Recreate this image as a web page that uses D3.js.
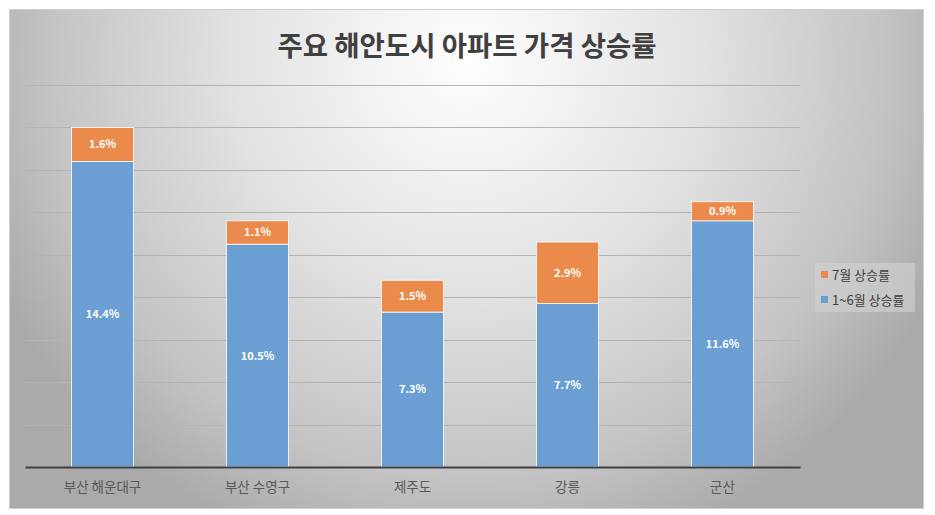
<!DOCTYPE html>
<html><head><meta charset="utf-8">
<script src="https://cdn.jsdelivr.net/npm/d3@7"></script>
<style>body{margin:0;background:#fff;} svg{display:block;}</style>
</head><body>
<svg id="c" width="935" height="515"></svg>
<script>
const categories = ["부산 해운대구", "부산 수영구", "제주도", "강릉", "군산"];
const h1Values = [14.4, 10.5, 7.3, 7.7, 11.6];   // 1~6월 상승률
const julValues = [1.6, 1.1, 1.5, 2.9, 0.9];     // 7월 상승률
const seriesNames = ["1~6월 상승률", "7월 상승률"];
const yTicks = [0, 2, 4, 6, 8, 10, 12, 14, 16, 18];
const title = "주요 해안도시 아파트 가격 상승률";

const colors = {"1~6월 상승률": "#6b9fd4", "7월 상승률": "#eb8b4b"};
const font = "'Noto Sans CJK KR', 'Noto Sans', sans-serif";

const svg = d3.select("#c");
const defs = svg.append("defs");
const grad = defs.append("radialGradient").attr("id", "bg")
  .attr("gradientUnits", "userSpaceOnUse")
  .attr("cx", 467).attr("cy", 60).attr("r", 520);
grad.append("stop").attr("offset", 0).attr("stop-color", "#ffffff");
grad.append("stop").attr("offset", 0.45).attr("stop-color", "#e2e2e2");
grad.append("stop").attr("offset", 0.8).attr("stop-color", "#c4c4c4");
grad.append("stop").attr("offset", 1).attr("stop-color", "#aaaaaa");

svg.append("rect").attr("x", 9.5).attr("y", 9.5).attr("width", 914).attr("height", 499)
  .attr("fill", "url(#bg)").attr("stroke", "#d0d0d0").attr("stroke-width", 1);

const x = d3.scaleBand().domain(categories).range([25, 800]).paddingInner(0.6).paddingOuter(0.3);
const y = d3.scaleLinear().domain([0, 18]).range([467, 85]);

// gridlines
svg.append("g").selectAll("line").data(yTicks.slice(1)).join("line")
  .attr("x1", 25).attr("x2", 800)
  .attr("y1", d => Math.round(y(d)) + 0.5).attr("y2", d => Math.round(y(d)) + 0.5)
  .attr("stroke", "#b4b4b4").attr("stroke-width", 1);

const rows = categories.map((c, i) => ({cat: c, "1~6월 상승률": h1Values[i], "7월 상승률": julValues[i]}));
const stack = d3.stack().keys(seriesNames)(rows);

const bw = 62;
stack.forEach(s => {
  const g = svg.append("g");
  g.selectAll("rect").data(s).join("rect")
    .attr("x", d => x(d.data.cat) + x.bandwidth() / 2 - bw / 2)
    .attr("width", bw)
    .attr("y", d => y(d[1]))
    .attr("height", d => y(d[0]) - y(d[1]))
    .attr("fill", colors[s.key])
    .attr("stroke", "#ffffff").attr("stroke-width", 0.8);
  g.selectAll("text").data(s).join("text")
    .attr("x", d => x(d.data.cat) + x.bandwidth() / 2)
    .attr("y", d => (y(d[0]) + y(d[1])) / 2)
    .attr("dy", "0.36em")
    .attr("text-anchor", "middle")
    .attr("font-family", font).attr("font-size", 11).attr("font-weight", "bold")
    .attr("fill", "#ffffff")
    .text(d => (d[1] - d[0]).toFixed(1) + "%");
});

// x axis
const xAxis = d3.axisBottom(x).tickSize(0).tickPadding(15);
const ax = svg.append("g").attr("transform", "translate(0,467)").call(xAxis);
ax.select(".domain").attr("stroke", "#404040").attr("stroke-width", 2);
ax.selectAll("text").attr("font-family", font).attr("font-size", 13.5).attr("fill", "#595959");

// title
svg.append("text").attr("x", 467).attr("y", 56).attr("text-anchor", "middle")
  .attr("font-family", font).attr("font-size", 27.5).attr("font-weight", "bold")
  .attr("fill", "#404040").text(title);

// legend
const lg = svg.append("g");
lg.append("rect").attr("x", 815).attr("y", 263).attr("width", 100).attr("height", 49)
  .attr("fill", "#d2d2d2").attr("opacity", 0.6);
const legendItems = ["7월 상승률", "1~6월 상승률"];
legendItems.forEach((k, i) => {
  const yy = 275 + i * 25;
  lg.append("rect").attr("x", 821).attr("y", yy - 4).attr("width", 7).attr("height", 7).attr("fill", colors[k]);
  lg.append("text").attr("x", 832).attr("y", yy).attr("dy", "0.35em")
    .attr("font-family", font).attr("font-size", 13).attr("fill", "#404040").text(k);
});
</script>
</body></html>
